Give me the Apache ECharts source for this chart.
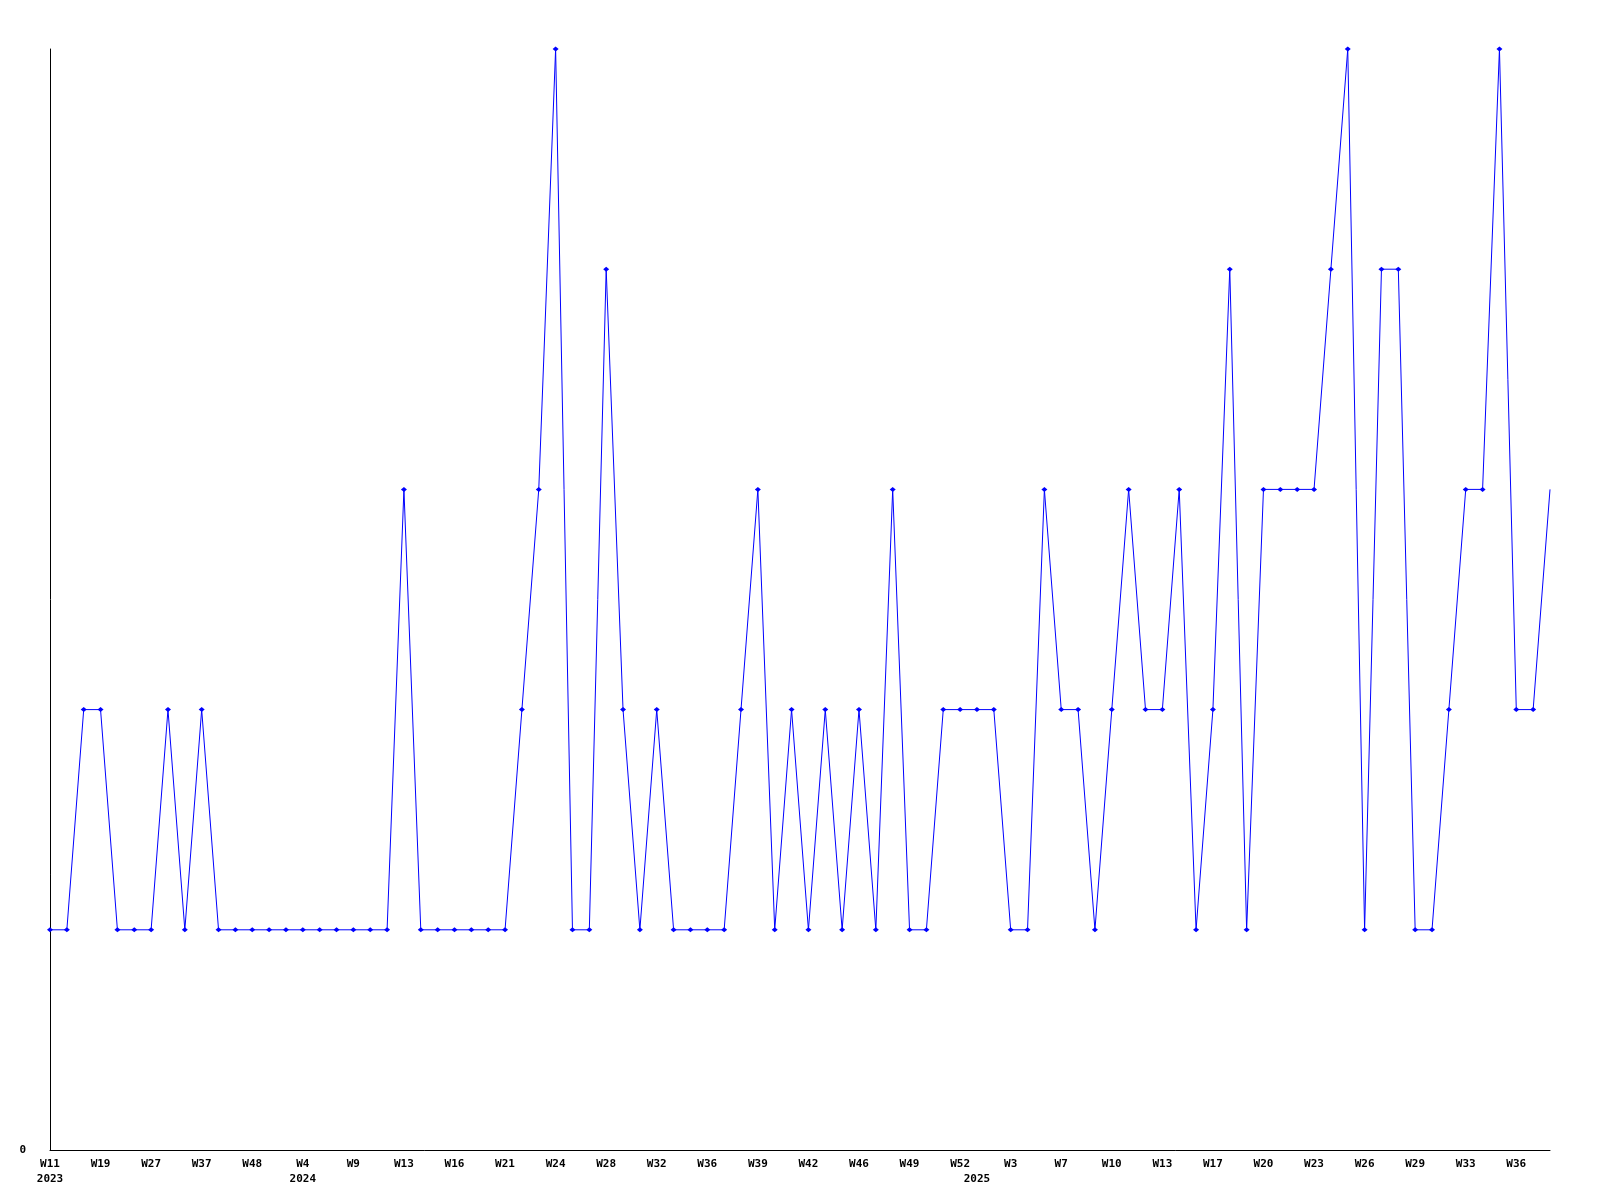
<!DOCTYPE html>
<html>
<head>
<meta charset="utf-8">
<script src="https://cdn.jsdelivr.net/npm/echarts@6/dist/echarts.min.js"></script>
<style>
html,body{margin:0;padding:0;background:#fff;}
#chart{width:1600px;height:1200px;}
</style>
</head>
<body>
<div id="chart"></div>
<script>
// Values (90 weekly points)
const values = [
  1,1,2,2,1,1,1,2,1,2,
  1,1,1,1,1,1,1,1,1,1,
  1,3,1,1,1,1,1,1,2,3,
  5,1,1,4,2,1,2,1,1,1,
  1,2,3,1,2,1,2,1,2,1,
  3,1,1,2,2,2,2,1,1,3,
  2,2,1,2,3,2,2,3,1,2,
  4,1,3,3,3,3,4,5,1,4,
  4,1,1,2,3,3,5,2,2,3
];
// Tick labels shown every third point
const weekTicks = ['W11','W19','W27','W37','W48','W4','W9','W13','W16','W21',
  'W24','W28','W32','W36','W39','W42','W46','W49','W52','W3',
  'W7','W10','W13','W17','W20','W23','W26','W29','W33','W36'];
const yearLabels = ['2023','2024','2025'];
const yearIndex = [0, 15, 55];
const tickStep = 3;

const categories = values.map((v, i) => String(i));
const seriesData = values.map((v, i) =>
  i === values.length - 1 ? {value: v, symbol: 'none'} : v);

const chart = echarts.init(document.getElementById('chart'));
chart.setOption({
  animation: false,
  backgroundColor: '#ffffff',
  grid: {left: 50, right: 50, top: 49, bottom: 50, containLabel: false},
  xAxis: {
    type: 'category',
    data: categories,
    boundaryGap: false,
    axisLine: {lineStyle: {color: '#000', width: 1}},
    axisTick: {show: false},
    splitLine: {show: false},
    axisLabel: {
      interval: 0,
      margin: 7,
      color: '#000',
      fontFamily: 'DejaVu Sans Mono',
      fontWeight: 'bold',
      fontSize: 11,
      lineHeight: 15,
      formatter: function (val, idx) {
        const w = (idx % tickStep === 0) ? weekTicks[idx / tickStep] : '';
        const yi = yearIndex.indexOf(idx);
        if (yi >= 0) return (w || ' ') + '\n' + yearLabels[yi];
        return w;
      }
    }
  },
  yAxis: {
    type: 'value',
    min: 0,
    max: 5,
    interval: 5,
    axisLine: {show: true, lineStyle: {color: '#000', width: 1}},
    axisTick: {show: false},
    splitLine: {show: false},
    axisLabel: {
      margin: 24,
      color: '#000',
      fontFamily: 'DejaVu Sans Mono',
      fontWeight: 'bold',
      fontSize: 11,
      formatter: v => (v === 0 ? '0' : '')
    }
  },
  series: [{
    type: 'line',
    data: seriesData,
    symbol: 'diamond',
    symbolSize: [6, 5],
    showAllSymbol: true,
    lineStyle: {color: '#0000ff', width: 1},
    itemStyle: {color: '#0000ff'}
  }]
});
</script>
</body>
</html>
